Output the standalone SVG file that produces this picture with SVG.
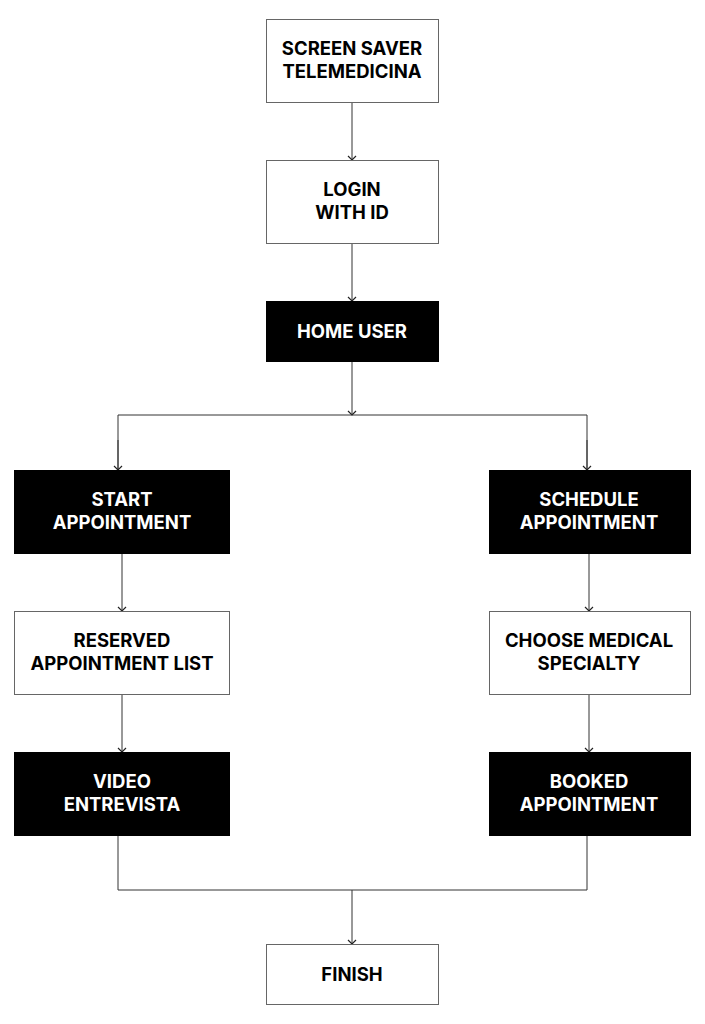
<svg xmlns="http://www.w3.org/2000/svg" width="705" height="1024" viewBox="0 0 705 1024">
<defs>
<marker id="arr" markerWidth="10" markerHeight="10" refX="9" refY="5" orient="auto" markerUnits="userSpaceOnUse" viewBox="0 0 10 10">
<path d="M5,1 L9,5 L5,9" fill="none" stroke="#222" stroke-width="1.2"/>
</marker>
<style>
.w{fill:#fff;stroke:#666;stroke-width:1}
.b{fill:#000;stroke:#000;stroke-width:1}
.t{font-family:Inter,"Liberation Sans",sans-serif;font-weight:700;font-size:18.5px;text-anchor:middle}
.tw{fill:#000}
.tb{fill:#fff}
.c{fill:none;stroke:#333;stroke-width:1}
</style>
</defs>
<rect width="705" height="1024" fill="#fff"/>
<g id="connectors">
<line class="c" x1="352" y1="102" x2="352" y2="160" marker-end="url(#arr)"/>
<line class="c" x1="352" y1="243" x2="352" y2="301" marker-end="url(#arr)"/>
<line class="c" x1="352" y1="361" x2="352" y2="415" marker-end="url(#arr)"/>
<polyline class="c" points="118,470 118,415 587,415 587,470"/>
<line class="c" x1="118" y1="440" x2="118" y2="470" marker-end="url(#arr)"/>
<line class="c" x1="587" y1="440" x2="587" y2="470" marker-end="url(#arr)"/>
<line class="c" x1="122" y1="553" x2="122" y2="611" marker-end="url(#arr)"/>
<line class="c" x1="122" y1="694" x2="122" y2="752" marker-end="url(#arr)"/>
<line class="c" x1="589" y1="553" x2="589" y2="611" marker-end="url(#arr)"/>
<line class="c" x1="589" y1="694" x2="589" y2="752" marker-end="url(#arr)"/>
<polyline class="c" points="118,835 118,890 587,890 587,835"/>
<line class="c" x1="352" y1="890" x2="352" y2="944" marker-end="url(#arr)"/>
</g>
<g id="screen-saver">
<rect class="w" x="266.5" y="19.5" width="172" height="83"/>
<text class="t tw" x="352" y="55">SCREEN SAVER</text>
<text class="t tw" x="352" y="78">TELEMEDICINA</text>
</g>
<g id="login">
<rect class="w" x="266.5" y="160.5" width="172" height="83"/>
<text class="t tw" x="352" y="196">LOGIN</text>
<text class="t tw" x="352" y="219">WITH ID</text>
</g>
<g id="home-user">
<rect class="b" x="266.5" y="301.5" width="172" height="60"/>
<text class="t tb" x="352" y="338">HOME USER</text>
</g>
<g id="start-appointment">
<rect class="b" x="14.5" y="470.5" width="215" height="83"/>
<text class="t tb" x="122" y="506">START</text>
<text class="t tb" x="122" y="529">APPOINTMENT</text>
</g>
<g id="reserved-list">
<rect class="w" x="14.5" y="611.5" width="215" height="83"/>
<text class="t tw" x="122" y="647">RESERVED</text>
<text class="t tw" x="122" y="670">APPOINTMENT LIST</text>
</g>
<g id="video">
<rect class="b" x="14.5" y="752.5" width="215" height="83"/>
<text class="t tb" x="122" y="788">VIDEO</text>
<text class="t tb" x="122" y="811">ENTREVISTA</text>
</g>
<g id="schedule">
<rect class="b" x="489.5" y="470.5" width="201" height="83"/>
<text class="t tb" x="589" y="506">SCHEDULE</text>
<text class="t tb" x="589" y="529">APPOINTMENT</text>
</g>
<g id="choose-specialty">
<rect class="w" x="489.5" y="611.5" width="201" height="83"/>
<text class="t tw" x="589" y="647">CHOOSE MEDICAL</text>
<text class="t tw" x="589" y="670">SPECIALTY</text>
</g>
<g id="booked">
<rect class="b" x="489.5" y="752.5" width="201" height="83"/>
<text class="t tb" x="589" y="788">BOOKED</text>
<text class="t tb" x="589" y="811">APPOINTMENT</text>
</g>
<g id="finish">
<rect class="w" x="266.5" y="944.5" width="172" height="60"/>
<text class="t tw" x="352" y="981">FINISH</text>
</g>
</svg>
